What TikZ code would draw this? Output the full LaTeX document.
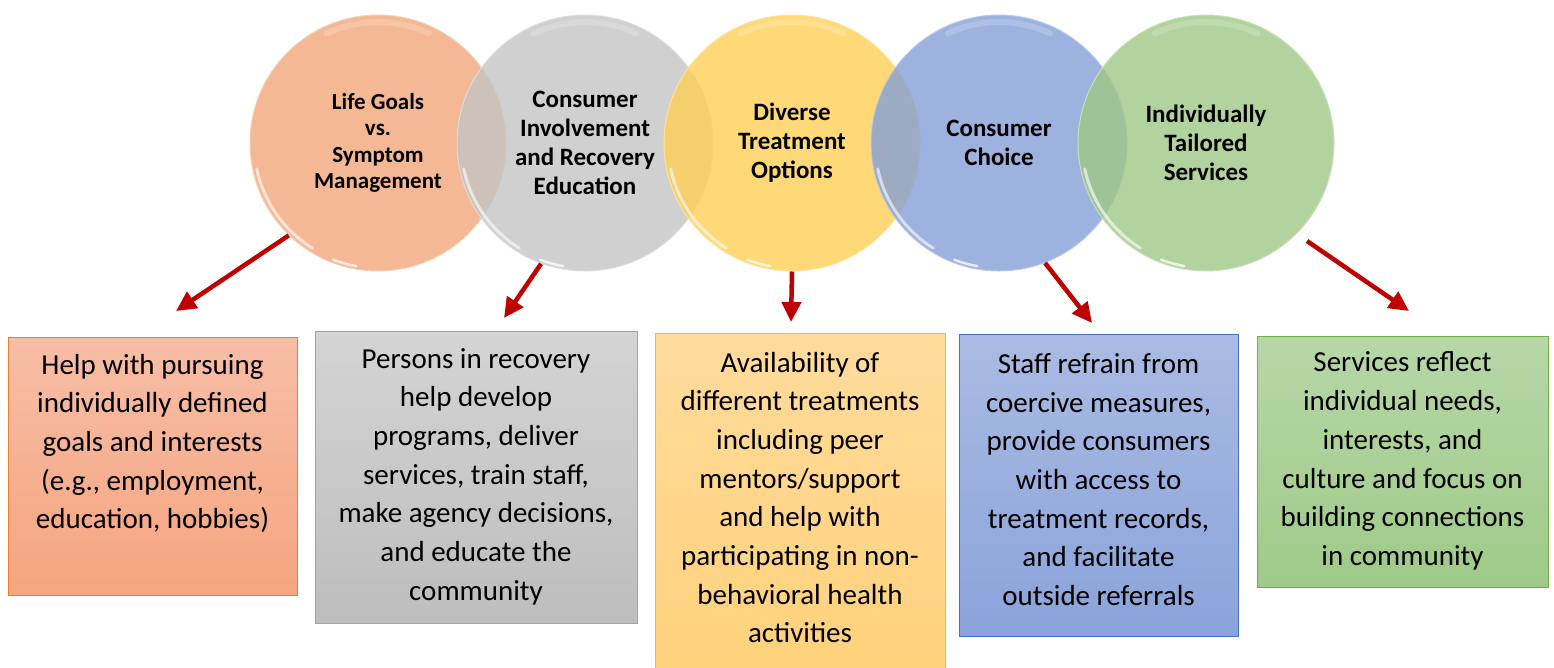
\documentclass[tikz,border=0pt]{standalone}
\usepackage{fontspec}
\setmainfont{Carlito}
\usetikzlibrary{arrows.meta,calc}

% circle fills (applied at 80% opacity) and box colours
\definecolor{cOrange}{HTML}{F1A779}
\definecolor{cGray}{HTML}{C4C4C4}
\definecolor{cYellow}{HTML}{FFCF56}
\definecolor{cBlue}{HTML}{849FD6}
\definecolor{cGreen}{HTML}{A0C886}
\definecolor{arrowRed}{HTML}{C00000}

\definecolor{oTop}{HTML}{F7BEA6}\definecolor{oBot}{HTML}{F5A47F}\definecolor{oLine}{HTML}{ED7D31}
\definecolor{gTop}{HTML}{D4D4D4}\definecolor{gBot}{HTML}{BDBDBD}\definecolor{gLine}{HTML}{A5A5A5}
\definecolor{yTop}{HTML}{FFDB9C}\definecolor{yBot}{HTML}{FFD179}\definecolor{yLine}{HTML}{FFC000}
\definecolor{bTop}{HTML}{AABBE3}\definecolor{bBot}{HTML}{8AA3DA}\definecolor{bLine}{HTML}{4472C4}
\definecolor{eTop}{HTML}{B7D7A7}\definecolor{eBot}{HTML}{9ECA88}\definecolor{eLine}{HTML}{70AD47}

\tikzset{
  bubble/.style={circle, minimum size=256pt, inner sep=0pt, fill=#1, fill opacity=0.8,
    text opacity=1, draw=#1!55!white, draw opacity=0.9, line width=1pt, align=center,
    font=\bfseries\fontsize{25}{29}\selectfont},
  gloss/.style={white, line width=3pt, opacity=0.6, line cap=round},
  infobox/.style={rectangle, draw=#1Line, line width=1.2pt, top color=#1Top, bottom color=#1Bot,
    inner sep=0pt, anchor=north west},
  infotext/.style={align=center, inner sep=0pt, font=\fontsize{29}{38.7}\selectfont},
  pointer/.style={draw=arrowRed, line width=4.5pt, -{Triangle[length=20pt,width=19pt]}}
}

\begin{document}
\begin{tikzpicture}[x=1pt,y=-1pt]
\useasboundingbox (0,0) rectangle (1554,667);

% principle bubbles
\node[bubble=cOrange, font=\bfseries\fontsize{23}{26.5}\selectfont] (c1) at (378,143)
  {Life Goals\\vs.\\Symptom\\Management};
\node[bubble=cGray]   (c2) at (585,143) {Consumer\\Involvement\\and Recovery\\Education};
\node[bubble=cYellow] (c3) at (792,143) {Diverse\\Treatment\\Options};
\node[bubble=cBlue]   (c4) at (999,143) {Consumer\\Choice};
\node[bubble=cGreen]  (c5) at (1206,143) {Individually\\Tailored\\Services};

% glossy reflections on each bubble (y axis points down here,
% so angles between 0 and 180 lie in the lower half)
\foreach \c in {c1,c2,c3,c4,c5}{
  \draw[gloss] (\c.center) ++(122:124) arc[start angle=122, end angle=168, radius=124];
  \draw[gloss, line width=2.5pt, opacity=0.75] (\c.center) ++(100:125) arc[start angle=100, end angle=111, radius=125];
  \draw[gloss, line width=6pt, opacity=0.18] (\c.center) ++(245:121) arc[start angle=245, end angle=295, radius=121];
}

% description boxes
\node[infobox=o, minimum width=289pt, minimum height=258pt] (b1) at (8,337) {};
\node[infobox=g, minimum width=322pt, minimum height=292pt] (b2) at (315,331) {};
\node[infobox=y, minimum width=290pt, minimum height=350pt] (b3) at (655,333) {};
\node[infobox=b, minimum width=279pt, minimum height=302pt] (b4) at (959,334) {};
\node[infobox=e, minimum width=291pt, minimum height=251pt] (b5) at (1257,336) {};

\node[infotext] (t1) at (152.5,443.5) {Help with pursuing\\individually defined\\goals and interests\\(e.g., employment,\\education, hobbies)};
\node[infotext] (t2) at (476,476.5) {Persons in recovery\\help develop\\programs, deliver\\services, train staff,\\make agency decisions,\\and educate the\\community};
\node[infotext] (t3) at (800,497.5) {Availability of\\different treatments\\including peer\\mentors/support\\and help with\\participating in non-\\behavioral health\\activities};
\node[infotext] (t4) at (1098.5,479.5) {Staff refrain from\\coercive measures,\\provide consumers\\with access to\\treatment records,\\and facilitate\\outside referrals};
\node[infotext] (t5) at (1402.5,461) {Services reflect\\individual needs,\\interests, and\\culture and focus on\\building connections\\in community};

% arrow end points above the boxes
\coordinate (p1) at (176,311);
\coordinate (p2) at (504,318);
\coordinate (p3) at (791,322);
\coordinate (p4) at (1092,323);
\coordinate (p5) at (1409,311);
% arrow start just outside the last bubble
\coordinate (s5) at (1307,241);

\draw[pointer] (c1.226.5) -- (p1);
\draw[pointer] (c2.250.6) -- (p2);
\draw[pointer] (c3.south) -- (p3);
\draw[pointer] (c4.291) -- (p4);
\draw[pointer] (s5) -- (p5);
\end{tikzpicture}
\end{document}
